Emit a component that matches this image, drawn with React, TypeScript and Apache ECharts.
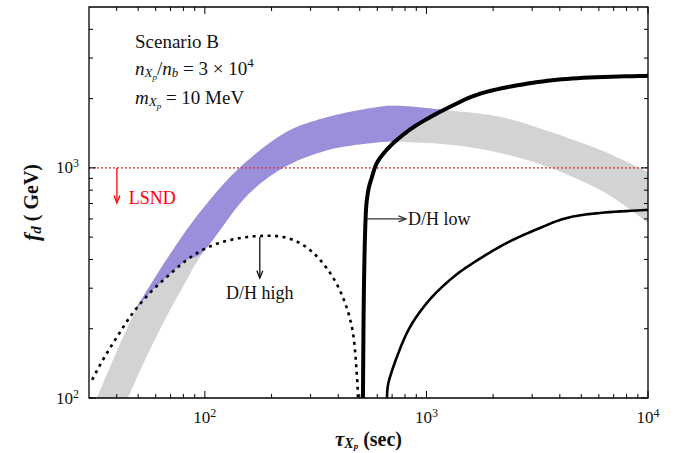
import React, { useEffect, useRef } from "react";
import * as echarts from "echarts";

const SERIF = '"Liberation Serif", "DejaVu Serif", serif';

// axis ranges and ticks
const xMin = 30;
const xMax = 10000;
const yMin = 100;
const yMax = 5000;
const xMajorTicks = [100, 1000, 10000];
const xMinorTicks = [40, 50, 60, 70, 80, 90, 200, 300, 400, 500, 600, 700, 800, 900, 2000, 3000, 4000, 5000, 6000, 7000, 8000, 9000];
const yMajorTicks = [100, 1000];
const yMinorTicks = [200, 300, 400, 500, 600, 700, 800, 900, 2000, 3000, 4000];

// gray band (edges)
const grayBandUpper = [[32.5, 100], [48.8, 241], [73.2, 453], [101, 690], [145, 1010], [230, 1420], [363, 1667], [573, 1823], [751, 1861], [1187, 1787], [2146, 1667], [3610, 1434], [6072, 1198], [10000, 961]];
const grayBandLower = [[44.9, 100], [54.7, 152], [67.4, 227], [79.6, 304], [98, 427], [153, 748], [230, 1010], [363, 1198], [573, 1284], [791, 1297], [1523, 1234], [3025, 1062], [6072, 802], [10000, 577]];

// purple (allowed) region
const purpleUpper = [[47.3, 234], [73.2, 453], [101, 690], [145, 1010], [230, 1420], [363, 1667], [573, 1823], [751, 1861], [1187, 1787]];
const purpleLower = [[47.3, 234], [56.5, 286], [67.4, 336], [82.9, 398], [100, 440], [153, 748], [230, 1010], [363, 1198], [573, 1284], [738, 1305]];
const purpleRightEdge = [[738, 1305], [907, 1538], [1187, 1787]];

// curves
const dhLowCurve = [[517, 100], [522, 286], [531, 594], [544, 778], [568, 914], [598, 1051], [656, 1186], [736, 1323], [907, 1538], [1277, 1842], [1800, 2119], [3025, 2342], [5088, 2462], [10000, 2512]];
const secondCurve = [[663, 100], [684, 123], [817, 192], [1005, 259], [1277, 326], [1622, 386], [2309, 472], [3253, 548], [4309, 606], [6072, 637], [10000, 657]];
const dhHighCurve = [[31, 120], [34.6, 146], [40.1, 184], [47.3, 234], [56.5, 286], [67.4, 336], [82.9, 398], [102, 449], [130, 486], [177, 506], [235, 496], [298, 440], [367, 350], [424, 267], [466, 192], [486, 123], [491, 100]];
const lsndLimit = [[30, 1000], [10000, 1000]];

// annotations
const arrowStarts = [[40.1, 1000], [539, 600], [177, 501]];
const arrowEnds = [[40.1, 704], [808, 600], [177, 332]];
const labelTexts = ["LSND", "D/H low", "D/H high"];
const labelAnchors = [[45.4, 741], [825, 600], [177, 286]];

function spline(pts: number[][], steps = 12): number[][] {
  const n = pts.length;
  if (n < 3) return pts.slice();
  const out: number[][] = [];
  for (let i = 0; i < n - 1; i++) {
    const p0 = pts[Math.max(i - 1, 0)];
    const p1 = pts[i];
    const p2 = pts[i + 1];
    const p3 = pts[Math.min(i + 2, n - 1)];
    for (let s = 0; s < steps; s++) {
      const t = s / steps;
      const t2 = t * t;
      const t3 = t2 * t;
      out.push([0, 1].map(
        (k) =>
          0.5 *
          (2 * p1[k] +
            (-p0[k] + p2[k]) * t +
            (2 * p0[k] - 5 * p1[k] + 4 * p2[k] - p3[k]) * t2 +
            (-p0[k] + 3 * p1[k] - 3 * p2[k] + p3[k]) * t3)
      ));
    }
  }
  out.push(pts[n - 1]);
  return out;
}

function powerLabel(v: number) {
  const e = Math.log10(v);
  const r = Math.round(e);
  if (Math.abs(e - r) > 1e-6) return "";
  return `{b|10}{s|${r}}`;
}

const gt = (size: number, extra: any = {}) => ({ fontSize: size, fontFamily: SERIF, fill: "#111", ...extra });
const ot = (size: number, extra: any = {}) => ({ fontSize: size, fontFamily: SERIF, color: "#111", ...extra });

const infoRich = {
  r: gt(19),
  i: gt(19, { fontStyle: "italic" }),
  s: gt(13, { fontStyle: "italic", padding: [8, 0, 0, 0] }),
  ss: gt(9, { fontStyle: "italic", padding: [17, 0, 0, 0] }),
  sup: gt(13, { padding: [0, 0, 12, 0] }),
};

const arrowColors = ["#ff0000", "#333333", "#111111"];
const labelColors = ["#ff0000", "#111111", "#111111"];

function curveSeries(name: string, pts: number[][], style: any, z: number) {
  return {
    type: "custom",
    name,
    z,
    silent: true,
    data: [pts[0]],
    renderItem: (params: any, api: any) => ({
      type: "polyline",
      shape: { points: spline(pts.map((p) => api.coord(p)), 10) },
      style: { fill: null, stroke: "#000", lineJoin: "round", ...style },
    }),
  };
}

export default function App() {
  const ref = useRef<HTMLDivElement>(null);
  useEffect(() => {
    if (!ref.current) return;
    const chart = echarts.init(ref.current, null, { renderer: "svg" });
    const option: any = {
      animation: false,
      textStyle: { fontFamily: SERIF },
      grid: { left: 89, right: 38, top: 7, bottom: 55, show: false, containLabel: false, outerBoundsMode: "none" },
      xAxis: {
        type: "log",
        logBase: 10,
        min: xMin,
        max: xMax,
        axisLine: { show: false },
        axisTick: { show: false },
        splitLine: { show: false },
        axisLabel: {
          formatter: powerLabel,
          margin: 9,
          showMinLabel: true,
          showMaxLabel: true,
          rich: {
            b: ot(17),
            s: ot(12, { padding: [0, 0, 9, 0] }),
          },
        },
        name: "{t|τ}{s|X}{ss|p}{n| (sec)}",
        nameLocation: "middle",
        nameGap: 30,
        nameMoveOverlap: false,
        nameTextStyle: {
          rich: {
            t: ot(21, { fontWeight: "bold", fontStyle: "italic" }),
            s: ot(14, { fontWeight: "bold", fontStyle: "italic", padding: [8, 0, 0, 0] }),
            ss: ot(9, { fontWeight: "bold", fontStyle: "italic", padding: [13, 0, 0, 0] }),
            n: ot(20, { fontWeight: "bold" }),
          },
        },
      },
      yAxis: {
        type: "log",
        logBase: 10,
        min: yMin,
        max: yMax,
        axisLine: { show: false },
        axisTick: { show: false },
        splitLine: { show: false },
        axisLabel: {
          formatter: powerLabel,
          margin: 10,
          showMinLabel: true,
          showMaxLabel: true,
          rich: {
            b: ot(17),
            s: ot(12, { padding: [0, 0, 9, 0] }),
          },
        },
        name: "{f|f}{d|d}{n| ( GeV)}",
        nameLocation: "middle",
        nameGap: 46,
        nameMoveOverlap: false,
        nameTextStyle: {
          rich: {
            f: ot(22, { fontWeight: "bold", fontStyle: "italic" }),
            d: ot(15, { fontWeight: "bold", fontStyle: "italic", padding: [9, 0, 0, 0] }),
            n: ot(20, { fontWeight: "bold" }),
          },
        },
      },
      graphic: [
        { type: "text", x: 135, y: 41, silent: true, style: { text: "Scenario B", ...gt(19), verticalAlign: "middle" } },
        {
          type: "text", x: 135, y: 68, silent: true,
          style: { text: "{i|n}{s|X}{ss|p}{r|/}{i|n}{s|b}{r| = 3 × 10}{sup|4}", rich: infoRich, ...gt(19), verticalAlign: "middle" },
        },
        {
          type: "text", x: 135, y: 97, silent: true,
          style: { text: "{i|m}{s|X}{ss|p}{r| = 10 MeV}", rich: infoRich, ...gt(19), verticalAlign: "middle" },
        },
      ],
      series: [
        {
          type: "custom",
          name: "band",
          z: 1,
          silent: true,
          data: [grayBandUpper[0]],
          renderItem: (params: any, api: any) => {
            const up = spline(grayBandUpper.map((p) => api.coord(p)));
            const lo = spline(grayBandLower.map((p) => api.coord(p)));
            return { type: "polygon", shape: { points: up.concat(lo.reverse()) }, style: { fill: "#d3d3d3" } };
          },
        },
        {
          type: "custom",
          name: "allowed",
          z: 2,
          silent: true,
          data: [purpleUpper[0]],
          renderItem: (params: any, api: any) => {
            const lo = spline(purpleLower.map((p) => api.coord(p)));
            const rt = spline(purpleRightEdge.map((p) => api.coord(p)));
            const up = spline(purpleUpper.map((p) => api.coord(p))).reverse();
            return { type: "polygon", shape: { points: lo.concat(rt.slice(1), up.slice(1)) }, style: { fill: "#998fdb" } };
          },
        },
        {
          type: "line", name: "LSND", z: 3, silent: true, symbol: "none", data: lsndLimit,
          lineStyle: { color: "#ff3030", width: 1.6, type: [1.6, 2.4] },
        },
        curveSeries("D/H high", dhHighCurve, { lineWidth: 2.6, lineDash: [3, 4.5] }, 4),
        curveSeries("D/H low", dhLowCurve, { lineWidth: 4 }, 4),
        curveSeries("second", secondCurve, { lineWidth: 2.6 }, 4),
        {
          type: "custom",
          name: "arrows",
          z: 5,
          silent: true,
          data: arrowStarts.map((s, i) => [s[0], s[1], arrowEnds[i][0], arrowEnds[i][1], i]),
          renderItem: (params: any, api: any) => {
            const a = api.coord([api.value(0), api.value(1)]);
            const b = api.coord([api.value(2), api.value(3)]);
            const color = arrowColors[api.value(4)];
            const ang = Math.atan2(b[1] - a[1], b[0] - a[0]);
            const L = 8;
            const w = 0.38;
            const h1 = [b[0] - L * Math.cos(ang - w), b[1] - L * Math.sin(ang - w)];
            const h2 = [b[0] - L * Math.cos(ang + w), b[1] - L * Math.sin(ang + w)];
            return {
              type: "group",
              children: [
                { type: "line", shape: { x1: a[0], y1: a[1], x2: b[0], y2: b[1] }, style: { stroke: color, lineWidth: 1.3 } },
                { type: "polyline", shape: { points: [h1, b, h2] }, style: { stroke: color, lineWidth: 1.3, fill: null } },
              ],
            };
          },
        },
        {
          type: "custom",
          name: "labels",
          z: 6,
          silent: true,
          data: labelAnchors.map((p, i) => [p[0], p[1], i]),
          renderItem: (params: any, api: any) => {
            const i = api.value(2);
            const c = api.coord([api.value(0), api.value(1)]);
            return {
              type: "text",
              x: c[0],
              y: c[1],
              style: {
                text: labelTexts[i],
                ...gt(18, { fill: labelColors[i] }),
                align: i === 2 ? "center" : "left",
                verticalAlign: "middle",
              },
            };
          },
        },
        {
          type: "custom",
          name: "frame",
          z: 10,
          silent: true,
          data: [
            ...xMajorTicks.map((v) => [v, 1000, 0]),
            ...xMinorTicks.map((v) => [v, 1000, 1]),
            ...yMajorTicks.map((v) => [1000, v, 2]),
            ...yMinorTicks.map((v) => [1000, v, 3]),
          ],
          renderItem: (params: any, api: any) => {
            const cs = params.coordSys;
            const kind = api.value(2);
            const st = { stroke: "#000", lineWidth: 1 };
            const children: any[] = [];
            if (params.dataIndex === 0) {
              children.push({
                type: "rect",
                shape: { x: cs.x, y: cs.y, width: cs.width, height: cs.height },
                style: { stroke: "#000", lineWidth: 1.3, fill: null },
              });
            }
            if (kind < 2) {
              const px = api.coord([api.value(0), 1000])[0];
              const len = kind === 0 ? 7 : 4;
              const yb = cs.y + cs.height;
              children.push({ type: "line", shape: { x1: px, y1: yb, x2: px, y2: yb - len }, style: st });
              children.push({ type: "line", shape: { x1: px, y1: cs.y, x2: px, y2: cs.y + len }, style: st });
            } else {
              const py = api.coord([1000, api.value(1)])[1];
              const len = kind === 2 ? 7 : 4;
              const xr = cs.x + cs.width;
              children.push({ type: "line", shape: { x1: cs.x, y1: py, x2: cs.x + len, y2: py }, style: st });
              children.push({ type: "line", shape: { x1: xr, y1: py, x2: xr - len, y2: py }, style: st });
            }
            return { type: "group", children };
          },
        },
      ],
    };
    chart.setOption(option);
    return () => chart.dispose();
  }, []);
  return (
    <div
      ref={ref}
      style={{ position: "fixed", left: 0, top: 0, width: 686, height: 453, background: "#fff" }}
    />
  );
}
